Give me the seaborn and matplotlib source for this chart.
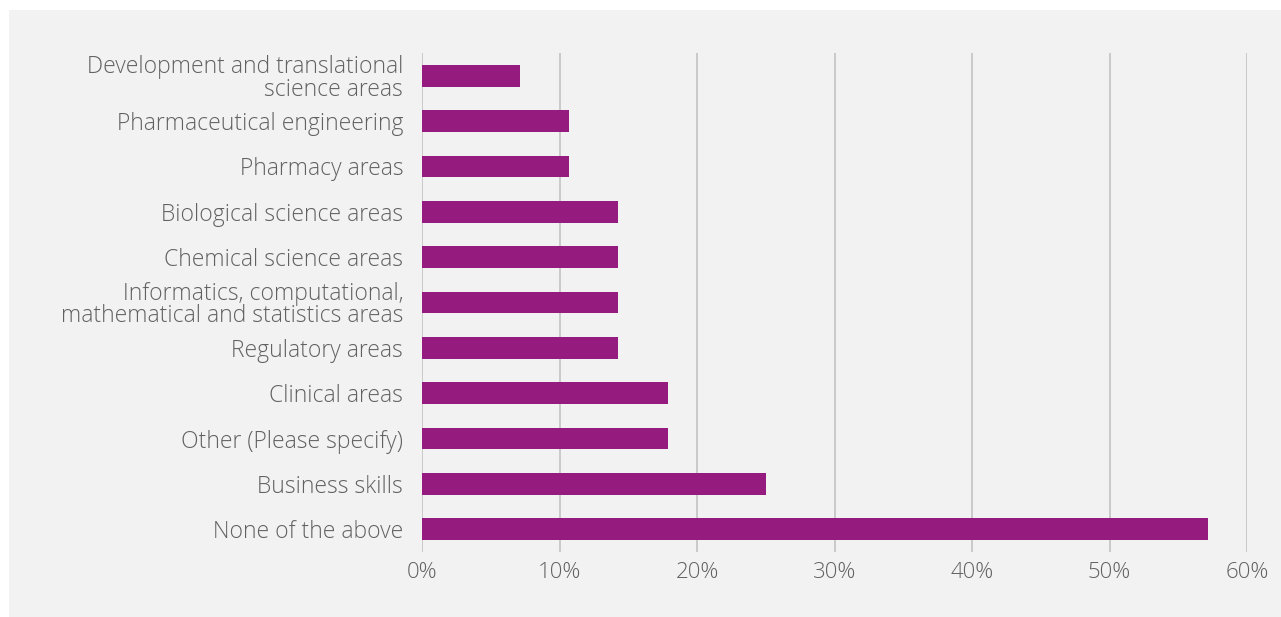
import matplotlib
matplotlib.use("Agg")
import matplotlib.pyplot as plt
from matplotlib.patches import Rectangle
from matplotlib.ticker import FuncFormatter
import seaborn as sns
import pandas as pd

categories = [
    "Development and translational\nscience areas",
    "Pharmaceutical engineering",
    "Pharmacy areas",
    "Biological science areas",
    "Chemical science areas",
    "Informatics, computational,\nmathematical and statistics areas",
    "Regulatory areas",
    "Clinical areas",
    "Other (Please specify)",
    "Business skills",
    "None of the above",
]
shares = [7.14, 10.71, 10.71, 14.29, 14.29, 14.29, 14.29, 17.86, 17.86, 25.0, 57.14]
x_ticks = [0, 10, 20, 30, 40, 50, 60]

df = pd.DataFrame({"area": categories, "share": shares})

sns.set_theme(style="white")
plt.rcParams["font.family"] = ["Open Sans", "DejaVu Sans"]

BG = "#f2f2f2"
BAR = "#961b7e"
TXT = "#616161"
GRID = "#c6c6c6"

fig = plt.figure(figsize=(12.81, 6.17), dpi=100, facecolor="white")
panel = Rectangle((9 / 1281, 0), 1.0, 1 - 10 / 617,
                  transform=fig.transFigure, facecolor=BG,
                  edgecolor="none", zorder=-10)
fig.add_artist(panel)

ax = fig.add_axes([422 / 1281, 1 - 552 / 617, (1247 - 422) / 1281, (552 - 53) / 617])
ax.set_zorder(1)
ax.patch.set_alpha(0)

sns.barplot(data=df, x="share", y="area", color=BAR, saturation=1,
            width=0.48, linewidth=0, edgecolor="none", ax=ax, zorder=3)

ax.set_xlim(0, 60)
ax.set_ylim(len(categories) - 0.5, -0.5)
ax.set_xticks(x_ticks)
ax.xaxis.set_major_formatter(FuncFormatter(lambda v, p: f"{v:.0f}%"))
ax.set_xlabel("")
ax.set_ylabel("")

for t in x_ticks:
    ax.axvline(t, color=GRID, lw=1.3, zorder=1)

for s in ax.spines.values():
    s.set_visible(False)

ax.tick_params(axis="y", length=0, pad=13.5, labelsize=16.5)
ax.tick_params(axis="x", length=0, pad=7, labelsize=16)
for lbl in ax.get_yticklabels():
    lbl.set_linespacing(0.94)
    lbl.set_color(TXT)
    lbl.set_fontweight("light")
for lbl in ax.get_xticklabels():
    lbl.set_color(TXT)
    lbl.set_fontweight("light")

fig.savefig("out.png", dpi=100, facecolor="white")
